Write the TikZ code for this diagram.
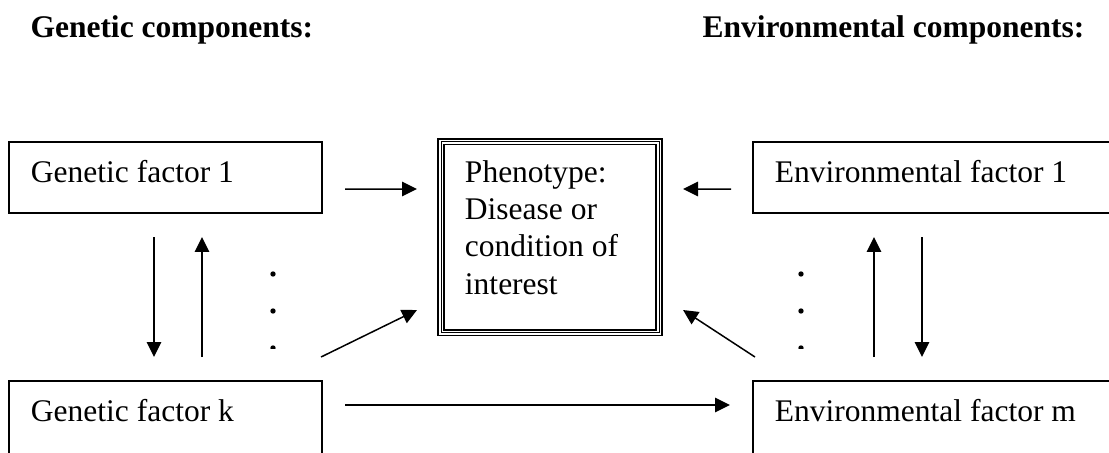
\documentclass[tikz,border=0pt]{standalone}
\usepackage{fontspec}
\setmainfont{Liberation Serif}
\usetikzlibrary{arrows.meta}

\begin{document}
\begin{tikzpicture}[
        x=0.381pt, y=-0.381pt,
        % Define styles for the nodes
        every node/.style={font=\fontsize{12pt}{14.1pt}\selectfont},
        title/.style={anchor=base west, inner sep=0pt, font=\fontsize{12pt}{14.1pt}\selectfont\bfseries},
        factor/.style={draw, line width=0.57pt, anchor=north west, align=flush left, inner xsep=8.38pt, inner ysep=0pt, outer sep=0pt, text width=102.5pt, text height=15.24pt, text depth=11.81pt},
        env_factor/.style={factor, text width=120.4pt},
        open_bottom/.style={text depth=16pt},
        pheno_box/.style={draw, line width=0.76pt, double, double distance=1.52pt, anchor=north west, align=flush left, inner xsep=9.14pt, inner ysep=0pt, outer sep=0pt, text width=64.8pt, text height=15.8pt, text depth=56.97pt},
        thin_line/.style={line width=0.38pt},
        arrow/.style={-{Triangle[length=5.7pt, width=5.5pt]}, line width=0.57pt}
    ]

    % the page, cut at its edges
    \path[use as bounding box, clip] (0,0) rectangle (1109,452);

    % ==============================================
    % === TITLES ===
    % ==============================================
    \node (gen_title) [title] at (30,37) {Genetic components:};
    \node (env_title) [title] at (702,37) {Environmental components:};

    % ==============================================
    % === LEFT COLUMN (genetic factors) ===
    % ==============================================
    \node (gen1) [factor] at (9,142) {Genetic factor 1};
    \node (genk) [factor, open_bottom] at (9,381) {Genetic factor k};

    \draw [arrow] ([shift={(-11.5,24)}]gen1.south) -- ([shift={(-11.5,-24)}]genk.north);
    \draw [arrow] ([shift={(36.5,-24)}]genk.north) -- ([shift={(36.5,24)}]gen1.south);

    % ==============================================
    % === MIDDLE (phenotype) ===
    % ==============================================
    \node (pheno) [pheno_box] at (441,141.5) {Phenotype:\\Disease or\\condition of\\interest};
    \draw [thin_line] (pheno.north west) rectangle (pheno.south east);

    % ==============================================
    % === RIGHT COLUMN (environmental factors) ===
    % ==============================================
    \node (env1) [env_factor] at (753,142) {Environmental factor 1};
    \node (envm) [env_factor, open_bottom] at (753,381) {Environmental factor m};

    \draw [arrow] ([shift={(121,-24)}]envm.north west) -- ([shift={(121,24)}]env1.south west);
    \draw [arrow] ([shift={(169,24)}]env1.south west) -- ([shift={(169,-24)}]envm.north west);

    % dots between factor 1 and the last factor
    \begin{scope}
        \clip (0,0) rectangle (1109,348.5);
        \foreach \x in {273,801} {
            \fill (\x,274) circle (1.02pt);
            \fill (\x,311) circle (1.02pt);
            \fill (\x,348) circle (1.02pt);
        }
    \end{scope}

    % ==============================================
    % === ARROWS INTO THE PHENOTYPE ===
    % ==============================================
    \draw [arrow] ([shift={(23,11.5)}]gen1.east) -- ([shift={(-24,-48)}]pheno.west);
    \draw [arrow] ([shift={(-22,11.5)}]env1.west) -- ([shift={(24,-48)}]pheno.east);
    \draw [arrow] ([shift={(-1,-24)}]genk.north east) -- ([shift={(-24,-22.5)}]pheno.south west);
    \draw [arrow] ([shift={(2,-24)}]envm.north west) -- ([shift={(24,-22.5)}]pheno.south east);

    % genetic factor k to environmental factor m
    \draw [arrow] ([shift={(23,24)}]genk.north east) -- ([shift={(-23,24)}]envm.north west);

\end{tikzpicture}
\end{document}
